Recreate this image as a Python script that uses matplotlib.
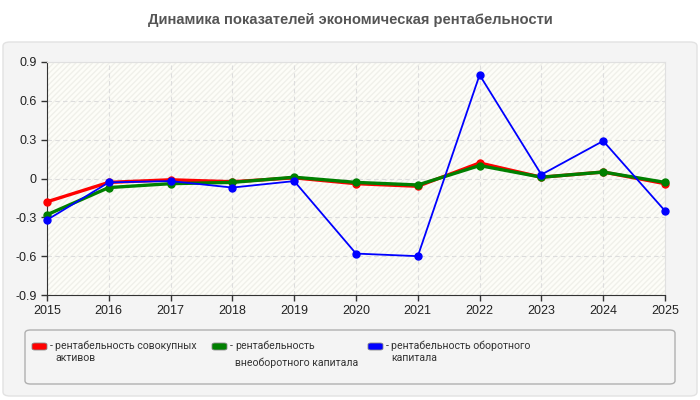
import matplotlib.pyplot as plt
from matplotlib.patches import FancyBboxPatch, Rectangle

years = [2015, 2016, 2017, 2018, 2019, 2020, 2021, 2022, 2023, 2024, 2025]
total_assets = [-0.18, -0.03, -0.01, -0.025, 0.005, -0.04, -0.06, 0.12, 0.01, 0.05, -0.04]
noncurrent = [-0.28, -0.07, -0.04, -0.03, 0.01, -0.03, -0.05, 0.10, 0.01, 0.05, -0.03]
current = [-0.32, -0.03, -0.02, -0.07, -0.02, -0.58, -0.60, 0.80, 0.03, 0.29, -0.25]

labels = [("рентабельность совокупных", "активов"),
          ("рентабельность", "внеоборотного капитала"),
          ("рентабельность оборотного", "капитала")]
colors = ["#ff0000", "#008000", "#0000ff"]
yticks = [-0.9, -0.6, -0.3, 0, 0.3, 0.6, 0.9]

W, H = 700, 400
fig = plt.figure(figsize=(7, 4), dpi=100, facecolor="white")

# outer panel
fig.patches.append(FancyBboxPatch((3 / W, 4 / H), 694 / W, 354 / H,
                                  boxstyle="round,pad=0,rounding_size=0.01",
                                  transform=fig.transFigure, facecolor="#f4f4f4",
                                  edgecolor="#e2e2e2", lw=1, zorder=0))
fig.text(0.5, 1 - 20 / H, "Динамика показателей экономическая рентабельности",
         ha="center", va="center", fontsize=10.6, fontweight="bold",
         color="#555555", family="Liberation Sans")

ax = fig.add_axes([47 / W, 1 - 295 / H, 618 / W, 233 / H])
ax.set_zorder(3)
ax.set_facecolor("#fdfdf8")
ax.add_patch(Rectangle((0, 0), 1, 1, transform=ax.transAxes, facecolor="none",
                       edgecolor="#f0f0ea", hatch="//////", lw=0, zorder=0))

series = [total_assets, noncurrent, current]
widths = [2.4, 2.4, 1.3]
for vals, c, lw in zip(series, colors, widths):
    ax.plot(years, vals, color=c, lw=lw, marker="o", ms=5, zorder=3, clip_on=False)

ax.set_xlim(2015, 2025)
ax.set_ylim(-0.9, 0.9)
ax.set_xticks(years)
ax.set_yticks(yticks)
ax.set_yticklabels([f"{v:g}" for v in yticks])
ax.grid(True, color="#dddddd", ls=(0, (4, 3)), lw=0.8)
ax.tick_params(labelsize=9, colors="#333333", length=4, width=1, color="#333333")
for t in ax.get_xticklabels() + ax.get_yticklabels():
    t.set_family("Liberation Sans")
    t.set_color("#222222")
for s in ["top", "right"]:
    ax.spines[s].set_color("#e0e0e0")
for s in ["left", "bottom"]:
    ax.spines[s].set_color("#333333")

# legend box
fig.patches.append(FancyBboxPatch((25 / W, 1 - 384 / H), 650 / W, 54 / H,
                                  boxstyle="round,pad=0,rounding_size=0.008",
                                  transform=fig.transFigure, facecolor="#f4f4f4",
                                  edgecolor="#b0b0b0", lw=1, zorder=1))
xs = [32, 212, 368]
second_y = [358, 363, 358]
for x, c, (l1, l2), y2 in zip(xs, colors, labels, second_y):
    fig.patches.append(FancyBboxPatch((x / W, 1 - 350 / H), 15 / W, 7 / H,
                                      boxstyle="round,pad=0,rounding_size=0.004",
                                      transform=fig.transFigure, facecolor=c,
                                      edgecolor="#888888", lw=0.6, zorder=2))
    fig.text((x + 18) / W, 1 - 346 / H, "-", ha="left", va="center",
             fontsize=7.6, color="#333333", family="Roboto")
    fig.text((x + 23) / W, 1 - 346 / H, l1, ha="left", va="center",
             fontsize=7.6, color="#333333", family="Roboto")
    fig.text((x + 23) / W, 1 - y2 / H, l2, ha="left", va="center",
             fontsize=7.6, color="#333333", family="Roboto")

fig.savefig("out.png", dpi=100, facecolor="white")
